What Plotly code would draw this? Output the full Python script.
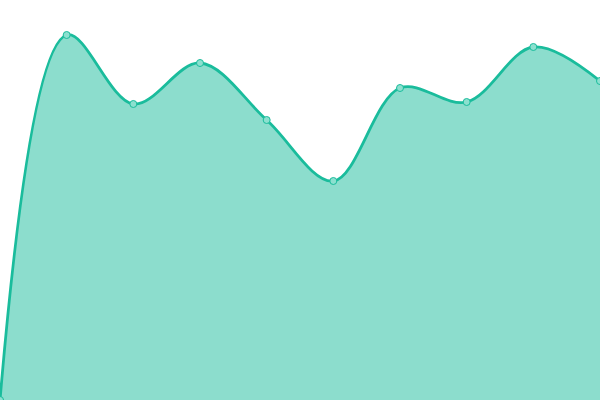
import plotly.graph_objects as go

x_vals = [0, 1, 2, 3, 4, 5, 6, 7, 8, 9]
y_vals = [0, 365, 296, 337, 280, 219, 312, 298, 353, 319]

fig = go.Figure()
fig.add_trace(go.Scatter(
    x=x_vals, y=y_vals,
    mode="lines+markers",
    line=dict(shape="spline", smoothing=1.0, color="#1abc9c", width=2.8),
    fill="tozeroy",
    fillcolor="rgba(26,188,156,0.5)",
    marker=dict(size=7, color="#8ce0cf", line=dict(color="#1abc9c", width=1)),
    hoverinfo="skip",
))
fig.update_layout(
    width=600, height=400,
    margin=dict(l=0, r=0, t=0, b=0),
    paper_bgcolor="white", plot_bgcolor="white",
    showlegend=False,
    xaxis=dict(range=[0, 9], visible=False, fixedrange=True),
    yaxis=dict(range=[0, 400], visible=False, fixedrange=True),
)
fig.write_html(
    "out.html",
    config={"displayModeBar": False},
    post_script="document.body.style.margin='0';document.body.style.overflow='hidden';",
)
